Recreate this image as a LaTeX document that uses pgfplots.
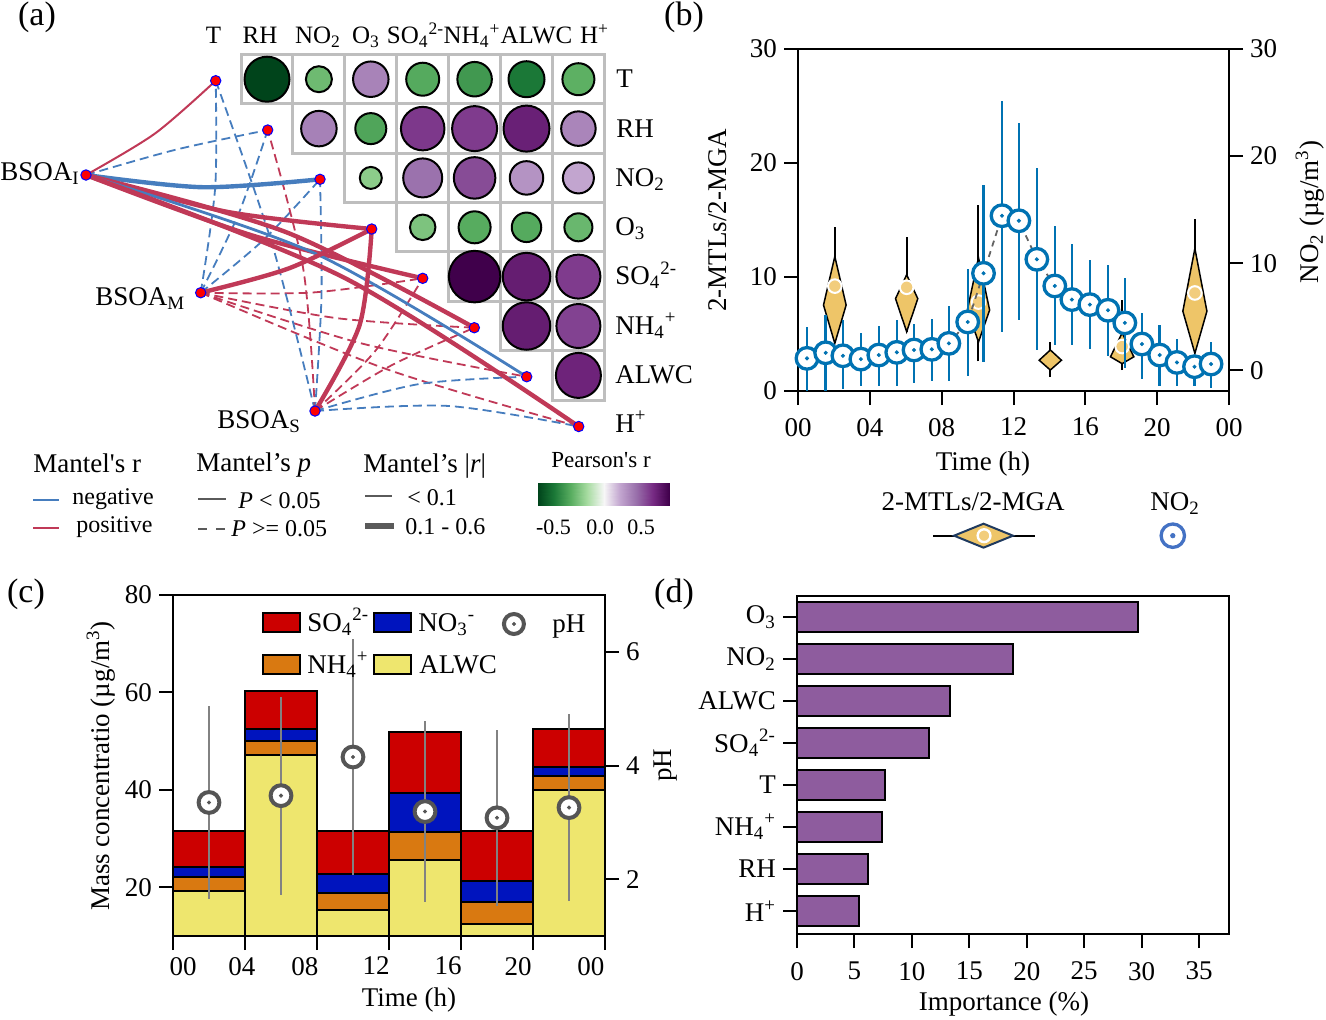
\documentclass[border=0pt]{standalone}
\usepackage{fontspec}
\setmainfont{Liberation Serif}
\usepackage{pgfplots}
\usepackage{pgfplotstable}
\pgfplotsset{compat=1.18}

\newcommand{\fs}{\fontsize{13.5}{16}\selectfont}
\newcommand{\fss}{\fontsize{12}{14}\selectfont}
\newcommand{\fsh}{\fontsize{12.5}{15}\selectfont}

\definecolor{mred}{RGB}{192,57,87}
\definecolor{mblue}{RGB}{70,125,190}
\definecolor{gridgray}{RGB}{190,190,190}
\definecolor{leggray}{RGB}{90,90,90}
\definecolor{no2blue}{RGB}{0,114,178}
\definecolor{no2leg}{RGB}{68,114,196}
\definecolor{vfill}{RGB}{238,197,104}
\definecolor{vmark}{RGB}{242,205,125}
\definecolor{navy}{RGB}{31,58,95}
\definecolor{cso}{RGB}{204,0,0}
\definecolor{cno}{RGB}{0,20,190}
\definecolor{cnh}{RGB}{217,121,17}
\definecolor{calwc}{RGB}{238,230,110}
\definecolor{phgray}{RGB}{85,85,85}
\definecolor{pherr}{RGB}{130,130,130}
\definecolor{imp}{RGB}{142,92,158}
\definecolor{dashgray}{RGB}{100,100,100}

\pgfplotsset{
  colormap={prgn}{rgb255=(0,68,27) rgb255=(27,120,55) rgb255=(90,174,97) rgb255=(166,219,160) rgb255=(247,247,247) rgb255=(194,165,207) rgb255=(153,112,171) rgb255=(118,42,131) rgb255=(64,0,75)},
  panel/.style={scale only axis, tick align=outside, major tick length=7pt,
    tick style={line width=1pt, black}, axis line style={line width=1pt},
    tick label style={font=\fs}, /pgf/number format/assume math mode=true},
}
\tikzset{
  rthick/.style={mred, line width=2.2pt},
  rthin/.style={mred, line width=1pt},
  rdash/.style={mred, line width=0.9pt, dash pattern=on 4.5pt off 2.5pt},
  bthick/.style={mblue, line width=2.2pt},
  bmed/.style={mblue, line width=1.4pt},
  bdash/.style={mblue, line width=0.9pt, dash pattern=on 4.5pt off 2.5pt},
}

% Pearson correlation matrix (upper triangle): position, r, circle diameter
\pgfplotstableread{
x y r d
267.0 79.2 -1.00 45
318.9 79.2 -0.435 26
370.8 79.2 0.41 35.5
422.7 79.2 -0.52 33
474.6 79.2 -0.60 34.5
526.5 79.2 -0.75 36
578.4 79.2 -0.49 32
318.9 128.6 0.42 35.5
370.8 128.6 -0.54 31
422.7 128.6 0.70 43.5
474.6 128.6 0.69 45
526.5 128.6 0.81 46
578.4 128.6 0.40 34.5
370.8 177.9 -0.335 22
422.7 177.9 0.49 39
474.6 177.9 0.63 41.5
526.5 177.9 0.335 33.5
578.4 177.9 0.25 31
422.7 227.3 -0.385 25.5
474.6 227.3 -0.51 32
526.5 227.3 -0.52 29.5
578.4 227.3 -0.45 28
474.6 276.6 1.00 51.5
526.5 276.6 0.83 47.5
578.4 276.6 0.69 44
526.5 326.0 0.83 47.5
578.4 326.0 0.665 44
578.4 375.4 0.79 45
}\corr

\pgfplotstableread{
x y
215.7 80.7
267.7 130
320 179.3
371.7 229
422.7 278.3
474.3 327.7
526.7 376.7
578.7 426.5
86 175
200.7 292.7
315 411
}\vnodes

% NO2 diurnal: hour, mean, error plus, error minus
\pgfplotstableread{
x v ep em
0.50 1.11 2.91 3.05
1.54 1.63 3.57 3.57
2.50 1.35 3.35 3.13
3.50 1.04 2.48 2.55
4.50 1.42 2.70 2.86
5.50 1.67 3.02 3.18
6.46 1.89 2.47 3.06
7.45 1.95 2.84 2.95
8.40 2.51 3.46 3.51
9.45 4.51 4.98 5.08
10.33 9.05 8.21 8.28
11.36 14.43 10.71 10.84
12.30 13.96 9.17 9.27
13.30 10.36 8.51 8.45
14.30 7.87 5.61 5.52
15.25 6.60 5.20 4.25
16.25 6.13 4.16 4.12
17.26 5.60 4.22 4.26
18.20 4.42 4.20 4.25
19.15 2.45 2.91 3.29
20.14 1.42 2.84 2.93
21.10 0.73 2.19 2.24
22.08 0.33 1.01 1.84
23.00 0.58 2.10 2.26
}\notab

\pgfplotstableread{
x v e
2 3.35 1.70
6 3.47 1.74
10 4.15 2.07
14 3.19 1.60
18 3.08 1.55
22 3.26 1.645
}\phtab

\begin{document}
\begin{tikzpicture}[x=0.5pt, y=-0.5pt, txt/.style={inner sep=0pt, font=\fs}, tsm/.style={inner sep=0pt, font=\fss}, thd/.style={inner sep=0pt, font=\fsh}]
\path[use as bounding box] (0,0) rectangle (1326,1019);
\coordinate (pa) at (330,280);
\coordinate (pb) at (798,391);
\coordinate (pc) at (173,936);
\coordinate (pd) at (797,934);
\coordinate (pcb) at (538,505);

% ---------------- panel (a)
\begin{axis}[at={(pa)}, anchor=center, scale only axis, width=330pt, height=280pt,
  xmin=0, xmax=660, ymin=0, ymax=560, y dir=reverse, hide axis, clip=false,
  colormap name=prgn, point meta min=-1, point meta max=1]
\addplot[gridgray, line width=1.5pt, line cap=rect, unbounded coords=jump] coordinates {
(241,54.5) (604.3,54.5) (nan,nan)
(241,103.9) (604.3,103.9) (nan,nan)
(292.9,153.2) (604.3,153.2) (nan,nan)
(344.8,202.6) (604.3,202.6) (nan,nan)
(396.7,251.9) (604.3,251.9) (nan,nan)
(448.6,301.3) (604.3,301.3) (nan,nan)
(500.5,350.7) (604.3,350.7) (nan,nan)
(552.4,400) (604.3,400) (nan,nan)
(241,54.5) (241,103.9) (nan,nan)
(292.9,54.5) (292.9,153.2) (nan,nan)
(344.8,54.5) (344.8,202.6) (nan,nan)
(396.7,54.5) (396.7,251.9) (nan,nan)
(448.6,54.5) (448.6,301.3) (nan,nan)
(500.5,54.5) (500.5,350.7) (nan,nan)
(552.4,54.5) (552.4,400) (nan,nan)
(604.3,54.5) (604.3,400)
};
\addplot[scatter, only marks, mark=*, point meta=\thisrow{r},
  mark options={line width=1pt},
  scatter/use mapped color={draw=black, fill=mapped color},
  visualization depends on={\thisrow{d}/4 \as \msz},
  scatter/@pre marker code/.append style={/tikz/mark size=\msz, /tikz/line width=1pt}]
  table[x=x, y=y] {\corr};
% Mantel links, dashed first
\addplot[bdash, smooth] coordinates {(86,175) (176.1,149.6) (267.7,130)};
\addplot[bdash, smooth] coordinates {(200.7,292.7) (215.2,187.2) (215.7,80.7)};
\addplot[bdash, smooth] coordinates {(200.7,292.7) (238.8,213.3) (267.7,130)};
\addplot[bdash, smooth] coordinates {(200.7,292.7) (263.8,239.6) (320,179.3)};
\addplot[rdash, smooth] coordinates {(200.7,292.7) (312.2,292.5) (422.7,278.3)};
\addplot[rdash, smooth] coordinates {(200.7,292.7) (336.5,318.1) (474.3,327.7)};
\addplot[rdash, smooth] coordinates {(200.7,292.7) (361.5,343.4) (526.7,376.7)};
\addplot[rdash, smooth] coordinates {(200.7,292.7) (386.4,369.1) (578.7,426.5)};
\addplot[bdash, smooth] coordinates {(315,411) (272,243.8) (215.7,80.7)};
\addplot[rdash, smooth] coordinates {(315,411) (303.2,268.5) (267.7,130)};
\addplot[bdash, smooth] coordinates {(315,411) (321.5,295.2) (320,179.3)};
\addplot[rdash, smooth] coordinates {(315,411) (375.8,350.3) (422.7,278.3)};
\addplot[rdash, smooth] coordinates {(315,411) (392.3,364.9) (474.3,327.7)};
\addplot[bdash, smooth] coordinates {(315,411) (419.3,384) (526.7,376.7)};
\addplot[bdash, smooth] coordinates {(315,411) (447.6,405.9) (578.7,426.5)};
% solid links
\addplot[rthin, smooth] coordinates {(86,175) (155,133.5) (215.7,80.7)};
\addplot[bthick, smooth] coordinates {(86,175) (202.8,187.2) (320,179.3)};
\addplot[rthick, smooth] coordinates {(86,175) (227,211.8) (371.7,229)};
\addplot[rthick, smooth] coordinates {(86,175) (251.7,235.3) (422.7,278.3)};
\addplot[rthick, smooth] coordinates {(86,175) (287.5,232.7) (474.3,327.7)};
\addplot[bmed, smooth] coordinates {(86,175) (316.3,254) (526.7,376.7)};
\addplot[rthick, smooth] coordinates {(86,175) (344.2,277.7) (578.7,426.5)};
\addplot[rthick, smooth] coordinates {(200.7,292.7) (289,268.3) (371.7,229)};
\addplot[rthick, smooth] coordinates {(315,411) (359.6,325) (371.7,229)};
% nodes
\addplot[only marks, mark=*, mark size=2.6pt, mark options={fill=red, draw=blue, line width=0.5pt}] table[x=x, y=y] {\vnodes};
% legend samples
\addplot[mblue, line width=1.2pt] coordinates {(33,500) (59,500)};
\addplot[mred, line width=1.2pt] coordinates {(33,528) (59,528)};
\addplot[leggray, line width=1pt] coordinates {(198,499) (226,499)};
\addplot[leggray, line width=1pt, dash pattern=on 4.5pt off 4.5pt] coordinates {(198,529) (227,529)};
\addplot[leggray, line width=1pt] coordinates {(365,496) (392,496)};
\addplot[leggray, line width=2.6pt] coordinates {(365,526) (394,526)};
\end{axis}

% colorbar of Pearson's r
\begin{axis}[at={(pcb)}, anchor=south west, scale only axis, width=65.5pt, height=11pt,
  xmin=-0.74, xmax=0.74, ymin=0, ymax=1, zmin=-1, zmax=1, hide axis, view={0}{90},
  colormap name=prgn, point meta min=-0.74, point meta max=0.74]
\addplot3[surf, shader=interp, mesh/rows=2, mesh/cols=9, point meta=x] coordinates {
(-0.74,0,0) (-0.555,0,0) (-0.37,0,0) (-0.185,0,0) (0,0,0) (0.185,0,0) (0.37,0,0) (0.555,0,0) (0.74,0,0)
(-0.74,1,0) (-0.555,1,0) (-0.37,1,0) (-0.185,1,0) (0,1,0) (0.185,1,0) (0.37,1,0) (0.555,1,0) (0.74,1,0)
};
\end{axis}

% ---------------- panel (b): 2-MTLs/2-MGA violins
\begin{axis}[panel, at={(pb)}, anchor=south west, width=215.5pt, height=171pt,
  xmin=0, xmax=24, ymin=0, ymax=30, xtick={0,4,...,24}, xticklabels={00,04,08,12,16,20,00},
  xticklabel style={yshift=-3pt},
  ytick={0,10,20,30}, xtick pos=left, ytick pos=left, clip=false]
\addplot[black, line width=1pt, unbounded coords=jump] coordinates {
(2.05,4.18) (2.05,14.36) (2.05,nan)
(6.05,5.2) (6.05,13.5) (6.05,nan)
(10.05,2.6) (10.05,16.3) (10.05,nan)
(14.05,1.25) (14.05,4.3) (14.05,nan)
(18.05,1.84) (18.05,8.0) (18.05,nan)
(22.1,3.3) (22.1,15.1)
};
\addplot[fill=vfill, draw=black, line width=0.75pt] coordinates {(2.05,11.8) (2.68,7.54) (2.05,4.18) (1.42,7.54)} -- cycle;
\addplot[fill=vfill, draw=black, line width=0.75pt] coordinates {(6.05,10.2) (6.67,8.1) (6.05,5.2) (5.43,8.1)} -- cycle;
\addplot[fill=vfill, draw=black, line width=0.75pt] coordinates {(10.05,11.7) (10.67,7.1) (10.05,4.3) (9.43,7.1)} -- cycle;
\addplot[fill=vfill, draw=black, line width=0.75pt] coordinates {(14.05,3.6) (14.67,2.7) (14.05,1.84) (13.43,2.7)} -- cycle;
\addplot[fill=vfill, draw=black, line width=0.75pt] coordinates {(18.05,5.1) (18.7,3.0) (18.05,2.4) (17.4,3.0)} -- cycle;
\addplot[fill=vfill, draw=black, line width=0.75pt] coordinates {(22.1,12.5) (22.77,7.0) (22.1,3.3) (21.43,7.0)} -- cycle;
\addplot[only marks, mark=*, mark size=3.4pt, mark options={fill=vmark, draw=white, line width=1pt}] coordinates {(2.05,9.2) (6.05,9.1) (10.05,7.8) (18.05,3.9) (22.1,8.6)};
% legend below panel (b)
\addplot[black, line width=1pt] coordinates {(7.52,-12.69) (13.2,-12.69)};
\addplot[fill=vfill, draw=navy, line width=1pt] coordinates {(8.69,-12.69) (10.33,-11.64) (11.97,-12.69) (10.33,-13.74)} -- cycle;
\addplot[only marks, mark=*, mark size=3.2pt, mark options={fill=vmark, draw=white, line width=1.2pt}] coordinates {(10.36,-12.69)};
\addplot[only marks, mark=*, mark size=5.85pt, mark options={fill=white, draw=no2leg, line width=1.65pt}] coordinates {(20.87,-12.69)};
\addplot[only marks, mark=*, mark size=1.1pt, mark options={fill=no2leg, draw=no2leg}] coordinates {(20.87,-12.69)};
\end{axis}

% ---------------- panel (b): NO2 on right axis
\begin{axis}[panel, at={(pb)}, anchor=south west, width=215.5pt, height=171pt,
  xmin=0, xmax=24, ymin=-1.94, ymax=30, ytick={0,10,20,30},
  axis y line*=right, axis x line=none]
\addplot[only marks, mark=none, error bars/.cd, y dir=both, y explicit, error mark=none,
  error bar style={no2blue, line width=1.2pt}] table[x=x, y=v, y error plus=ep, y error minus=em] {\notab};
\addplot[dashgray, line width=0.9pt, dash pattern=on 3pt off 2.5pt] table[x=x, y=v] {\notab};
\addplot[only marks, mark=*, mark size=5.4pt, mark options={fill=white, draw=no2blue, line width=1.65pt}] table[x=x, y=v] {\notab};
\addplot[only marks, mark=*, mark size=0.8pt, mark options={fill=no2blue, draw=no2blue}] table[x=x, y=v] {\notab};
\end{axis}

% ---------------- panel (c): stacked ions
\begin{axis}[panel, at={(pc)}, anchor=south west, width=216pt, height=170.5pt,
  xmin=0, xmax=24, ymin=10, ymax=80, ytick={20,40,60,80},
  xtick={0,4,...,24}, xticklabels={,,,,,,},
  extra x ticks={0.556,3.83,7.33,11.28,15.28,19.17,23.22},
  extra x tick labels={00,04,08,12,16,20,00},
  extra x tick style={tick style={draw=none}},
  xtick pos=left, ytick pos=left, ybar stacked, bar width=4]
\addplot[fill=calwc, draw=black, line width=1pt] coordinates {(2,19.25) (6,47.1) (10,15.3) (14,25.7) (18,12.5) (22,39.9)};
\addplot[fill=cnh, draw=black, line width=1pt] coordinates {(2,2.85) (6,3.0) (10,3.6) (14,5.7) (18,4.5) (22,2.9)};
\addplot[fill=cno, draw=black, line width=1pt] coordinates {(2,2.1) (6,2.4) (10,3.9) (14,8.0) (18,4.2) (22,1.8)};
\addplot[fill=cso, draw=black, line width=1pt] coordinates {(2,7.4) (6,7.8) (10,8.8) (14,12.5) (18,10.4) (22,7.8)};
\end{axis}

% ---------------- panel (c): pH on right axis
\begin{axis}[panel, at={(pc)}, anchor=south west, width=216pt, height=170.5pt,
  xmin=0, xmax=24, ymin=1, ymax=7, ytick={2,4,6},
  axis y line*=right, axis x line=none]
\addplot[only marks, mark=none, error bars/.cd, y dir=both, y explicit, error mark=none,
  error bar style={pherr, line width=1.2pt}] table[x=x, y=v, y error=e] {\phtab};
\addplot[only marks, mark=*, mark size=5.2pt, mark options={fill=white, draw=phgray, line width=2pt}] table[x=x, y=v] {\phtab};
\addplot[only marks, mark=*, mark size=0.8pt, mark options={fill=phgray, draw=phgray}] table[x=x, y=v] {\phtab};
% legend swatches
\addplot[fill=cso, draw=black, line width=1pt] coordinates {(5,6.683) (7.056,6.683) (7.056,6.349) (5,6.349)} -- cycle;
\addplot[fill=cno, draw=black, line width=1pt] coordinates {(11.167,6.683) (13.222,6.683) (13.222,6.349) (11.167,6.349)} -- cycle;
\addplot[fill=cnh, draw=black, line width=1pt] coordinates {(5,5.944) (7.056,5.944) (7.056,5.610) (5,5.610)} -- cycle;
\addplot[fill=calwc, draw=black, line width=1pt] coordinates {(11.167,5.944) (13.222,5.944) (13.222,5.610) (11.167,5.610)} -- cycle;
\addplot[only marks, mark=*, mark size=5pt, mark options={fill=white, draw=phgray, line width=2pt}] coordinates {(18.94,6.49)};
\addplot[only marks, mark=*, mark size=0.8pt, mark options={fill=phgray, draw=phgray}] coordinates {(18.94,6.49)};
\end{axis}

% ---------------- panel (d): importance
\begin{axis}[panel, at={(pd)}, anchor=south west, width=216pt, height=169pt,
  xmin=0, xmax=37.6, ymin=0.45, ymax=8.5, xtick={0,5,...,35}, ytick={1,...,8},
  xticklabel style={yshift=-3.5pt},
  yticklabels={H\textsuperscript{+}, RH, NH\textsubscript{4}\textsuperscript{+}, T, SO\textsubscript{4}\textsuperscript{2-}, ALWC, NO\textsubscript{2}, O\textsubscript{3}},
  xtick pos=left, ytick pos=left, xbar, bar width=0.714]
\addplot[fill=imp, draw=black, line width=1pt] coordinates {(5.4,1) (6.15,2) (7.4,3) (7.7,4) (11.5,5) (13.35,6) (18.8,7) (29.7,8)};
\end{axis}

% ---------------- texts
\node[font=\fontsize{17}{20}\selectfont] at (37,17) {(a)};
\node[font=\fontsize{17}{20}\selectfont] at (684,17) {(b)};
\node[font=\fontsize{17}{20}\selectfont] at (26,594) {(c)};
\node[font=\fontsize{17}{20}\selectfont] at (674,594) {(d)};

% panel (a) headers
\node[thd, anchor=base] at (213.6,43.5) {T};
\node[thd, anchor=base] at (260,43.5) {RH};
\node[thd, anchor=base] at (318,43.5) {NO\textsubscript{2}};
\node[thd, anchor=base] at (366,43.5) {O\textsubscript{3}};
\node[thd, anchor=base] at (415.5,43.5) {SO\textsubscript{4}\textsuperscript{2-}};
\node[thd, anchor=base] at (472,43.5) {NH\textsubscript{4}\textsuperscript{+}};
\node[thd, anchor=base] at (536.5,43.5) {ALWC};
\node[thd, anchor=base] at (594.5,43.5) {H\textsuperscript{+}};
\node[txt, anchor=base west] at (616,87.5) {T};
\node[txt, anchor=base west] at (616,137) {RH};
\node[txt, anchor=base west] at (615,186) {NO\textsubscript{2}};
\node[txt, anchor=base west] at (615,235.5) {O\textsubscript{3}};
\node[txt, anchor=base west] at (615,284.5) {SO\textsubscript{4}\textsuperscript{2-}};
\node[txt, anchor=base west] at (615,334) {NH\textsubscript{4}\textsuperscript{+}};
\node[txt, anchor=base west] at (615,383) {ALWC};
\node[txt, anchor=base west] at (615,432) {H\textsuperscript{+}};
\node[txt, anchor=base west] at (0,180) {BSOA\textsubscript{I}};
\node[txt, anchor=base west] at (95,305) {BSOA\textsubscript{M}};
\node[txt, anchor=base west] at (217,428) {BSOA\textsubscript{S}};

% panel (a) legend
\node[txt, anchor=base west] at (33,472) {Mantel\textquotesingle s r};
\node[tsm, anchor=base west] at (72,504.5) {negative};
\node[tsm, anchor=base west] at (76,532) {positive};
\node[txt, anchor=base west] at (196,471) {Mantel’s \textit{p}};
\node[tsm, anchor=base west] at (238,508) {\textit{P} < 0.05};
\node[tsm, anchor=base west] at (231,536) {\textit{P} >= 0.05};
\node[txt, anchor=base west] at (363,472) {Mantel’s |\textit{r}|};
\node[tsm, anchor=base west] at (407,505) {< 0.1};
\node[tsm, anchor=base west] at (405,534) {0.1 - 0.6};
\node[inner sep=0pt, font=\fontsize{11.5}{13}\selectfont, anchor=base] at (601,467) {Pearson\textquotesingle s r};
\node[inner sep=0pt, font=\fontsize{11}{13}\selectfont, anchor=base] at (553.5,534) {-0.5};
\node[inner sep=0pt, font=\fontsize{11}{13}\selectfont, anchor=base] at (600,534) {0.0};
\node[inner sep=0pt, font=\fontsize{11}{13}\selectfont, anchor=base] at (641,534) {0.5};

% panel (b) labels
\node[txt, rotate=90] at (718,220) {2-MTLs/2-MGA};
\node[txt, rotate=90] at (1310,212) {NO\textsubscript{2} (µg/m\textsuperscript{3})};
\node[txt] at (983,464) {Time (h)};
\node[txt, anchor=base] at (973,510) {2-MTLs/2-MGA};
\node[txt, anchor=base] at (1175,510) {NO\textsubscript{2}};

% panel (c) labels
\node[txt, rotate=90] at (101,766) {Mass concentratio (µg/m\textsuperscript{3})};
\node[txt, rotate=90] at (666,765) {pH};
\node[txt] at (409,1000) {Time (h)};
\node[txt, anchor=base west] at (307,631) {SO\textsubscript{4}\textsuperscript{2-}};
\node[txt, anchor=base west] at (418,631) {NO\textsubscript{3}\textsuperscript{-}};
\node[txt, anchor=base west] at (552,632) {pH};
\node[txt, anchor=base west] at (307,673) {NH\textsubscript{4}\textsuperscript{+}};
\node[txt, anchor=base west] at (419,673) {ALWC};

% panel (d) labels
\node[txt] at (1004,1004) {Importance (\%)};
\end{tikzpicture}
\end{document}
